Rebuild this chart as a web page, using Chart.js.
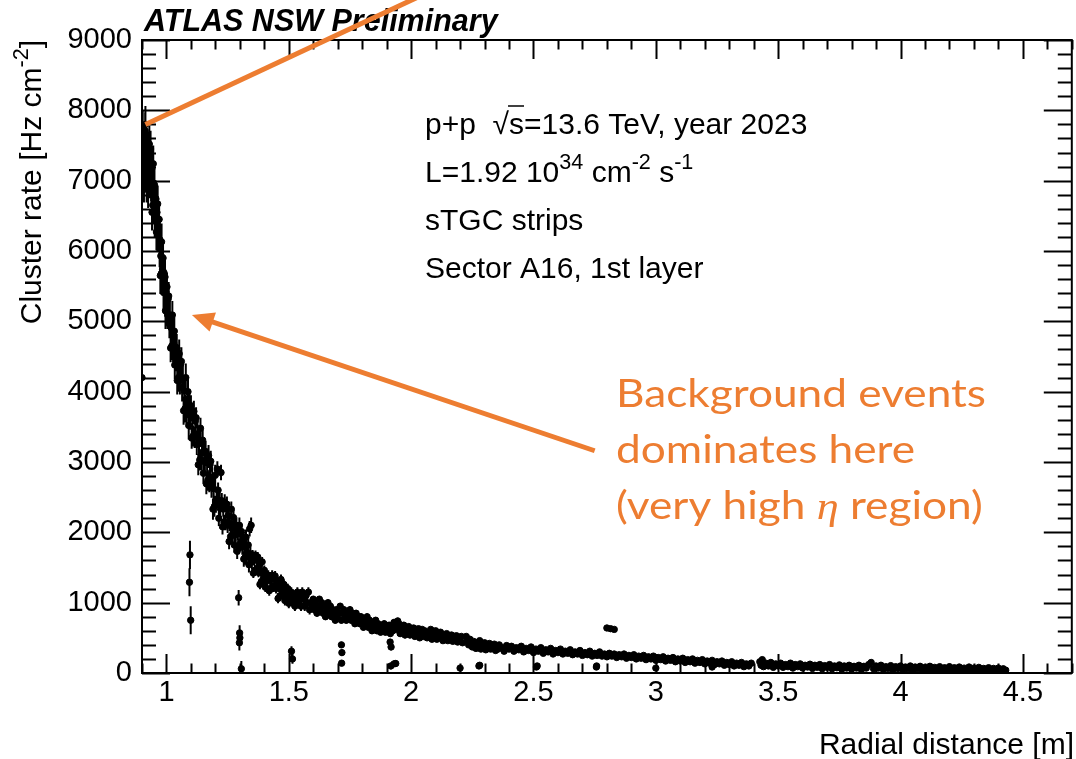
<!DOCTYPE html>
<html>
<head>
<meta charset="utf-8">
<title>sTGC strips cluster rate</title>
<script src="https://cdn.jsdelivr.net/npm/chart.js@4/dist/chart.umd.min.js"></script>
<style>
  html, body { margin: 0; padding: 0; background: #fff; }
  canvas { display: block; }
</style>
</head>
<body>
<canvas id="rateChart" width="1076" height="759"></canvas>
<script>
// [radius (m), cluster rate (Hz/cm2)], region by region
const steepRegion = [
  [0.903,7740],[0.905,7290],[0.906,7520],[0.908,6950],[0.909,7380],[0.911,7090],[0.913,7710],[0.914,7800],
  [0.916,7290],[0.917,7570],[0.919,6950],[0.921,7380],[0.922,7210],[0.924,7440],[0.925,6870],[0.927,7300],
  [0.929,7010],[0.930,7520],[0.932,7040],[0.934,7350],[0.935,7450],[0.937,6960],[0.939,7160],[0.941,6550],
  [0.942,6970],[0.944,6650],[0.946,7240],[0.947,6660],[0.949,6770],[0.951,6940],[0.952,6460],[0.954,6750],
  [0.956,6580],[0.957,6740],[0.959,6270],[0.961,6550],[0.963,6300],[0.964,6670],[0.966,6270],[0.968,6450],
  [0.970,6450],[0.972,6030],[0.973,6160],[0.975,5650],[0.977,5930],[0.979,5680],[0.980,6130],[0.982,5670],
  [0.984,5740],[0.986,5900],[0.988,5410],[0.990,5690],[0.992,5510],[0.994,5630],[0.996,5150],[0.998,5420],
  [1.000,5150],[1.002,5490],[1.005,5090],[1.007,5320],[1.009,5360],[1.012,4960],[1.014,5090],[1.017,4620],
  [1.019,4910],[1.022,4650],[1.024,5090],[1.027,4620],[1.029,4700],[1.032,4860],[1.034,4380],[1.037,4640],
  [1.039,4490],[1.042,4620],[1.044,4160],[1.047,4440],[1.049,4200],[1.052,4540],[1.055,4160],[1.058,4390],
  [1.061,4430],[1.064,4060],[1.067,4190],[1.070,3730],[1.073,4010],[1.076,3760],[1.079,4200],[1.082,3740],
  [1.085,3830],[1.088,4000],[1.091,3520],[1.094,3810],[1.097,3660]
];
const kneeRegion = [
  [1.100,3800],[1.103,3340],[1.106,3630],[1.109,3370],[1.112,3720],[1.115,3350],[1.118,3580],[1.121,3630],
  [1.124,3250],[1.127,3400],[1.130,2960],[1.133,3260],[1.136,3030],[1.139,3480],[1.142,3030],[1.145,3130],
  [1.148,3310],[1.151,2840],[1.154,3140],[1.157,3000],[1.160,3150],[1.163,2690],[1.166,2990],[1.169,2740],
  [1.172,3090],[1.175,2720],[1.178,2960],[1.181,3010],[1.184,2640],[1.187,2780],[1.190,2330],[1.193,2620],
  [1.196,2370],[1.199,2810],[1.202,2390],[1.205,2470],[1.208,2900],[1.211,2600],[1.214,2200],[1.217,2450],
  [1.220,2340],[1.223,2850],[1.226,2450],[1.229,2080],[1.232,2330],[1.235,2140],[1.238,2430],[1.241,2140],
  [1.244,2340],[1.247,2400],[1.250,2100],[1.253,2240],[1.256,1870],[1.259,2130],[1.262,1940],[1.265,2330],
  [1.268,1960],[1.271,2050],[1.274,2210],[1.277,1820],[1.280,2080],[1.283,1970],[1.286,2100],[1.289,1730],
  [1.292,1990],[1.295,1800],[1.298,2100],[1.301,1840],[1.304,1980],[1.307,2010],[1.310,1790],[1.313,1890],
  [1.316,1620],[1.319,1800],[1.322,1650],[1.325,1930],[1.328,1660],[1.331,1710],[1.334,1820],[1.337,1540],
  [1.340,2050],[1.343,1690],[1.346,2100],[1.349,1580],[1.352,1680],[1.355,1420],[1.358,1600],[1.361,1460],
  [1.364,1670],[1.367,1470],[1.370,1610],[1.373,1650],[1.376,1430],[1.379,1530],[1.382,1260],[1.385,1450],
  [1.388,1300],[1.391,1580],[1.394,1310],[1.397,1370],[1.400,1460],[1.404,1220],[1.408,1380],[1.412,1310],
  [1.416,1390],[1.420,1170],[1.424,1320],[1.428,1210],[1.432,1390],[1.436,1220],[1.440,1340],[1.444,1380],
  [1.448,1200],[1.452,1280],[1.456,1060],[1.460,1220],[1.464,1100],[1.468,1330],[1.472,1110],[1.476,1160],
  [1.480,1260],[1.484,1030],[1.488,1190],[1.492,1120],[1.496,1200],[1.500,990]
];
const midRegion = [
  [1.505,1050],[1.510,1150],[1.515,1000],[1.520,1100],[1.525,950],[1.530,1050],[1.535,1150],[1.540,1000],
  [1.545,1100],[1.550,950],[1.555,1150],[1.560,1050],[1.565,950],[1.570,1100],[1.575,1000],[1.580,1150],
  [1.585,900],[1.590,1000],[1.595,950],[1.600,1050],[1.605,900],[1.610,1000],[1.615,850],[1.620,950],
  [1.625,1050],[1.630,900],[1.635,1000],[1.640,850],[1.645,950],[1.650,800],[1.655,900],[1.660,1000],
  [1.665,850],[1.670,950],[1.675,800],[1.680,900],[1.685,850],[1.690,750],[1.695,900],[1.700,800],
  [1.705,850],[1.710,950],[1.715,750],[1.720,850],[1.725,900],[1.730,800],[1.735,750],[1.740,850],
  [1.745,800],[1.750,900],[1.755,750],[1.760,850],[1.765,800],[1.770,700],[1.775,850],[1.780,750],
  [1.785,800],[1.790,700],[1.795,800],[1.800,750],[1.805,650],[1.810,750],[1.815,700],[1.820,800],
  [1.825,650],[1.830,750],[1.835,700],[1.840,600],[1.845,700],[1.850,650],[1.855,750],[1.860,600],
  [1.865,700],[1.870,650],[1.875,580],[1.880,680],[1.885,620],[1.890,700],[1.895,580],[1.900,650],
  [1.905,600],[1.910,680],[1.915,560],[1.920,640],[1.925,600],[1.930,720],[1.935,680],[1.940,620],
  [1.945,740],[1.950,700],[1.955,560],[1.960,650],[1.965,600],[1.970,680],[1.975,540],[1.980,620],
  [1.985,580],[1.990,660],[1.995,540],[2.000,600],[2.005,560],[2.010,640],[2.015,520],[2.020,600],
  [2.025,560],[2.030,630],[2.035,500],[2.040,580],[2.045,620],[2.050,520],[2.055,600],[2.060,560],
  [2.065,500],[2.070,580],[2.075,540],[2.080,620],[2.085,480],[2.090,560],[2.095,520],[2.100,600],
  [2.105,480],[2.110,550],[2.115,500],[2.120,580],[2.125,520],[2.130,460],[2.135,540],[2.140,500],
  [2.145,560],[2.150,460],[2.155,520],[2.160,480],[2.165,540],[2.170,450],[2.175,510],[2.180,470],
  [2.185,530],[2.190,440],[2.195,500],[2.200,460],[2.205,520],[2.210,430]
];
const tailRegion = [
  [2.225,520],[2.230,460],[2.235,400],[2.240,480],[2.245,430],[2.250,370],[2.255,450],[2.260,400],
  [2.265,350],[2.270,430],[2.275,390],[2.280,460],[2.285,340],[2.290,410],[2.295,370],[2.300,430],
  [2.305,330],[2.310,400],[2.315,360],[2.320,420],[2.325,340],[2.330,390],[2.335,350],[2.340,410],
  [2.345,320],[2.350,380],[2.355,340],[2.360,400],[2.370,360],[2.380,310],[2.390,390],[2.400,340],
  [2.410,380],[2.420,310],[2.430,360],[2.440,330],[2.450,380],[2.460,300],[2.470,350],[2.480,320],
  [2.490,370],[2.500,290],[2.510,340],[2.520,310],[2.530,360],[2.540,280],[2.550,330],[2.560,300],
  [2.570,350],[2.580,270],[2.590,320],[2.600,290],[2.610,340],[2.620,270],[2.630,310],[2.640,280],
  [2.650,330],[2.660,260],[2.670,300],[2.680,270],[2.690,320],[2.700,250],[2.710,290],[2.720,260],
  [2.730,310],[2.740,240],[2.750,280],[2.760,250],[2.770,300],[2.780,240],[2.790,270],[2.800,230],
  [2.810,280],[2.820,240],[2.830,270],[2.840,220],[2.850,260],[2.860,230],[2.870,270],[2.880,210],
  [2.890,250],[2.900,220],[2.910,260],[2.920,200],[2.930,240],[2.940,210],[2.950,250],[2.960,190],
  [2.970,230],[2.980,200],[2.990,240],[3.000,180],[3.010,220],[3.020,190],[3.030,230],[3.040,170],
  [3.050,210],[3.060,180],[3.070,220],[3.080,160],[3.090,200],[3.100,170],[3.110,210],[3.120,150],
  [3.130,190],[3.140,160],[3.150,200],[3.160,140],[3.170,180],[3.180,150],[3.190,190],[3.200,130],
  [3.210,170],[3.220,140],[3.230,180],[3.240,120],[3.250,160],[3.260,130],[3.270,170],[3.280,110],
  [3.290,150],[3.300,120],[3.310,160],[3.320,100],[3.330,140],[3.340,110],[3.350,150],[3.360,90],
  [3.370,130],[3.380,100],[3.390,140]
];
const farTailRegion = [
  [3.425,160],[3.430,110],[3.435,190],[3.440,90],[3.450,140],[3.460,100],[3.470,150],[3.480,80],
  [3.490,130],[3.500,100],[3.510,140],[3.520,80],[3.530,120],[3.540,90],[3.550,140],[3.560,70],
  [3.570,120],[3.580,90],[3.590,130],[3.600,70],[3.610,110],[3.620,85],[3.630,125],[3.640,65],
  [3.650,110],[3.660,80],[3.670,120],[3.680,60],[3.690,105],[3.700,80],[3.710,120],[3.720,60],
  [3.730,100],[3.740,75],[3.750,115],[3.760,55],[3.770,100],[3.780,70],[3.790,110],[3.800,55],
  [3.810,95],[3.820,70],[3.830,110],[3.840,50],[3.850,95],[3.860,70],[3.870,120],[3.880,150],
  [3.890,60],[3.900,100],[3.910,70],[3.920,110],[3.930,50],[3.940,90],[3.950,65],[3.960,105],
  [3.970,45],[3.980,90],[3.990,65],[4.000,100],[4.010,45],[4.020,85],[4.030,60],[4.040,100],
  [4.050,40],[4.060,85],[4.070,60],[4.080,95],[4.090,40],[4.100,80],[4.110,55],[4.120,95],
  [4.130,40],[4.140,80],[4.150,55],[4.160,90],[4.170,35],[4.180,75],[4.190,50],[4.200,90],
  [4.210,35],[4.220,75],[4.230,50],[4.240,85],[4.250,30],[4.260,70],[4.270,50],[4.280,85],
  [4.290,30],[4.300,70],[4.310,45],[4.320,80],[4.330,30],[4.340,65],[4.350,45],[4.360,75],
  [4.370,30],[4.380,65],[4.390,40],[4.400,70],[4.410,30],[4.420,60],[4.430,40]
];
// stray points well off the main band
const isolatedPoints = [
  [0.900,4200],[1.096,1680],[1.094,1290],[1.099,750],[1.295,1070],[1.299,570],[1.300,500],[1.298,430],
  [1.306,60],[1.511,310],[1.515,200],[1.715,400],[1.717,290],[1.716,140],[1.914,440],[1.918,370],
  [1.917,100],[1.930,130],[1.937,135],[2.200,70],[2.277,100],[2.280,110],[2.512,85],[2.515,100],
  [2.757,85],[2.758,100],[2.800,640],[2.815,630],[2.830,620],[3.000,70],[3.230,85]
];
// error bar half-heights (Hz/cm2) estimated per radius band
const errBandStart = [0.90, 1.00, 1.10, 1.20, 1.35, 1.60, 2.00];
const errBandHalf  = [260, 200, 150, 110, 70, 45, 25];

const xMajorTicks = [1, 1.5, 2, 2.5, 3, 3.5, 4, 4.5];
const yMajorTicks = [0, 1000, 2000, 3000, 4000, 5000, 6000, 7000, 8000, 9000];

const ORANGE = '#ED7D31';
const SANS = '"Liberation Sans", Arial, Helvetica, sans-serif';

const points = [steepRegion, kneeRegion, midRegion, tailRegion, farTailRegion, isolatedPoints]
  .flat().map(([x, y]) => ({ x, y }));

function errorFor(r) {
  let e = errBandHalf[0];
  for (let i = 0; i < errBandStart.length; i++) {
    if (r >= errBandStart[i]) e = errBandHalf[i];
  }
  return e;
}

// draw a run of text pieces, some of them superscripts
function drawPieces(ctx, pieces, x, y, size, weight) {
  let cx = x;
  pieces.forEach(p => {
    const s = p.sup ? size * 0.72 : size;
    ctx.font = (weight || '') + ' ' + s + 'px ' + SANS;
    ctx.fillText(p.t, cx, p.sup ? y - size * 0.45 : y);
    cx += ctx.measureText(p.t).width;
  });
  return cx;
}
function piecesWidth(ctx, pieces, size) {
  let w = 0;
  pieces.forEach(p => {
    ctx.font = (p.sup ? size * 0.72 : size) + 'px ' + SANS;
    w += ctx.measureText(p.t).width;
  });
  return w;
}

const rootStyle = {
  id: 'rootStyle',
  beforeDatasetsDraw(chart) {
    const { ctx, chartArea: a, scales: { x, y } } = chart;
    ctx.save();
    ctx.beginPath();
    ctx.rect(a.left, a.top, a.right - a.left, a.bottom - a.top);
    ctx.clip();
    ctx.strokeStyle = '#000';
    ctx.lineWidth = 2;
    ctx.beginPath();
    points.forEach(p => {
      const e = errorFor(p.x);
      const px = x.getPixelForValue(p.x);
      ctx.moveTo(px, y.getPixelForValue(p.y - e));
      ctx.lineTo(px, y.getPixelForValue(p.y + e));
    });
    ctx.stroke();
    ctx.restore();
  },
  afterDraw(chart) {
    const { ctx, chartArea: a, scales: { x, y } } = chart;
    ctx.save();
    ctx.strokeStyle = '#000';
    ctx.lineWidth = 2;
    ctx.strokeRect(a.left, a.top, a.right - a.left, a.bottom - a.top);

    // ticks on all four sides, pointing inward
    ctx.beginPath();
    for (let i = 0; i <= 45; i++) {
      const v = i * 200;
      const major = v % 1000 === 0;
      const len = major ? 28 : 14;
      const py = Math.round(y.getPixelForValue(v)) + 0.5;
      ctx.moveTo(a.left, py); ctx.lineTo(a.left + len, py);
      ctx.moveTo(a.right, py); ctx.lineTo(a.right - len, py);
    }
    for (let i = 9; i <= 47; i++) {
      const major = i % 5 === 0;
      const len = major ? 19 : 9.5;
      const px = Math.round(x.getPixelForValue(i / 10)) + 0.5;
      ctx.moveTo(px, a.bottom); ctx.lineTo(px, a.bottom - len);
      ctx.moveTo(px, a.top); ctx.lineTo(px, a.top + len);
    }
    ctx.stroke();

    ctx.fillStyle = '#000';
    ctx.textBaseline = 'alphabetic';
    ctx.textAlign = 'left';

    // ATLAS label
    ctx.font = 'italic bold 30.5px ' + SANS;
    ctx.fillText('ATLAS NSW Preliminary', 144, 31);

    // axis titles
    ctx.font = '30px ' + SANS;
    ctx.textAlign = 'right';
    ctx.fillText('Radial distance [m]', 1074, 754);
    ctx.textAlign = 'left';

    const yTitle = [{ t: 'Cluster rate [Hz cm' }, { t: '-2', sup: true }, { t: ']' }];
    ctx.save();
    ctx.translate(41, a.top);
    ctx.rotate(-Math.PI / 2);
    drawPieces(ctx, yTitle, -piecesWidth(ctx, yTitle, 30), 0, 30);
    ctx.restore();

    // info block
    const tx = 425, fs = 30;
    let cx = drawPieces(ctx, [{ t: 'p+p  ' }], tx, 134, fs);
    ctx.font = fs + 'px ' + SANS;
    ctx.fillText('\u221A', cx, 134);
    const rootEnd = cx + ctx.measureText('\u221A').width;
    ctx.fillText('s', rootEnd, 134);
    const sEnd = rootEnd + ctx.measureText('s').width;
    ctx.lineWidth = 1.5;
    ctx.beginPath();
    ctx.moveTo(rootEnd - 1, 134 - 28); ctx.lineTo(sEnd, 134 - 28);
    ctx.stroke();
    ctx.fillText('=13.6 TeV, year 2023', sEnd, 134);
    drawPieces(ctx, [{ t: 'L=1.92 10' }, { t: '34', sup: true }, { t: ' cm' }, { t: '-2', sup: true },
      { t: ' s' }, { t: '-1', sup: true }], tx, 182, fs);
    drawPieces(ctx, [{ t: 'sTGC strips' }], tx, 230, fs);
    drawPieces(ctx, [{ t: 'Sector A16, 1st layer' }], tx, 278, fs);

    // orange annotation
    ctx.strokeStyle = ORANGE;
    ctx.fillStyle = ORANGE;
    ctx.lineWidth = 5;
    ctx.lineCap = 'butt';
    const p1 = [x.getPixelForValue(0.914), y.getPixelForValue(7800)];
    const p2 = [x.getPixelForValue(2.2), y.getPixelForValue(9890)];
    ctx.beginPath();
    ctx.moveTo(p1[0], p1[1]); ctx.lineTo(p2[0], p2[1]);
    ctx.stroke();

    const tip = [x.getPixelForValue(1.104), y.getPixelForValue(5090)];
    const tail = [x.getPixelForValue(2.75), y.getPixelForValue(3160)];
    const dx = tip[0] - tail[0], dy = tip[1] - tail[1];
    const len = Math.hypot(dx, dy), ux = dx / len, uy = dy / len;
    const headL = 22, headW = 10;
    const bx = tip[0] - ux * headL, by = tip[1] - uy * headL;
    ctx.beginPath();
    ctx.moveTo(tail[0], tail[1]); ctx.lineTo(bx + ux * 2, by + uy * 2);
    ctx.stroke();
    ctx.beginPath();
    ctx.moveTo(tip[0], tip[1]);
    ctx.lineTo(bx - uy * headW, by + ux * headW);
    ctx.lineTo(bx + uy * headW, by - ux * headW);
    ctx.closePath();
    ctx.fill();

    const ofont = '38px Lato, "Open Sans", sans-serif';
    ctx.font = ofont;
    const sx = 370 / ctx.measureText('Background events').width;
    ctx.save();
    ctx.translate(616, 0);
    ctx.scale(sx, 1);
    ctx.fillText('Background events', 0, 407);
    ctx.fillText('dominates here', 0, 463);
    let ox = 0;
    ctx.fillText('(very high ', ox, 519);
    ox += ctx.measureText('(very high ').width;
    ctx.font = 'italic 38px "Liberation Serif", "DejaVu Serif", serif';
    ctx.fillText('\u03B7', ox, 519);
    ox += ctx.measureText('\u03B7').width;
    ctx.font = ofont;
    ctx.fillText(' region)', ox, 519);
    ctx.restore();

    ctx.restore();
  }
};

const tickFont = { family: SANS, size: 29 };

new Chart(document.getElementById('rateChart'), {
  type: 'scatter',
  data: {
    datasets: [{
      data: points,
      pointRadius: 3.2,
      pointHoverRadius: 3.2,
      pointBackgroundColor: '#000',
      pointBorderColor: '#000',
      pointBorderWidth: 1
    }]
  },
  options: {
    responsive: false,
    animation: false,
    events: [],
    layout: { padding: { top: 40, right: 1, left: 0, bottom: 0 } },
    plugins: { legend: { display: false }, tooltip: { enabled: false } },
    scales: {
      x: {
        type: 'linear',
        min: 0.9,
        max: 4.7,
        grid: { display: false, drawTicks: false },
        border: { display: false },
        ticks: { font: tickFont, color: '#000', padding: 3, maxRotation: 0, autoSkip: false,
                 callback: v => String(v) },
        afterBuildTicks: axis => { axis.ticks = xMajorTicks.map(value => ({ value })); },
        afterFit: axis => { axis.height = 86; }
      },
      y: {
        type: 'linear',
        min: 0,
        max: 9000,
        grid: { display: false, drawTicks: false },
        border: { display: false },
        ticks: { font: tickFont, color: '#000', padding: 10, autoSkip: false,
                 callback: v => String(v) },
        afterBuildTicks: axis => { axis.ticks = yMajorTicks.map(value => ({ value })); },
        afterFit: axis => { axis.width = 142; }
      }
    }
  },
  plugins: [rootStyle]
});
</script>
</body>
</html>
